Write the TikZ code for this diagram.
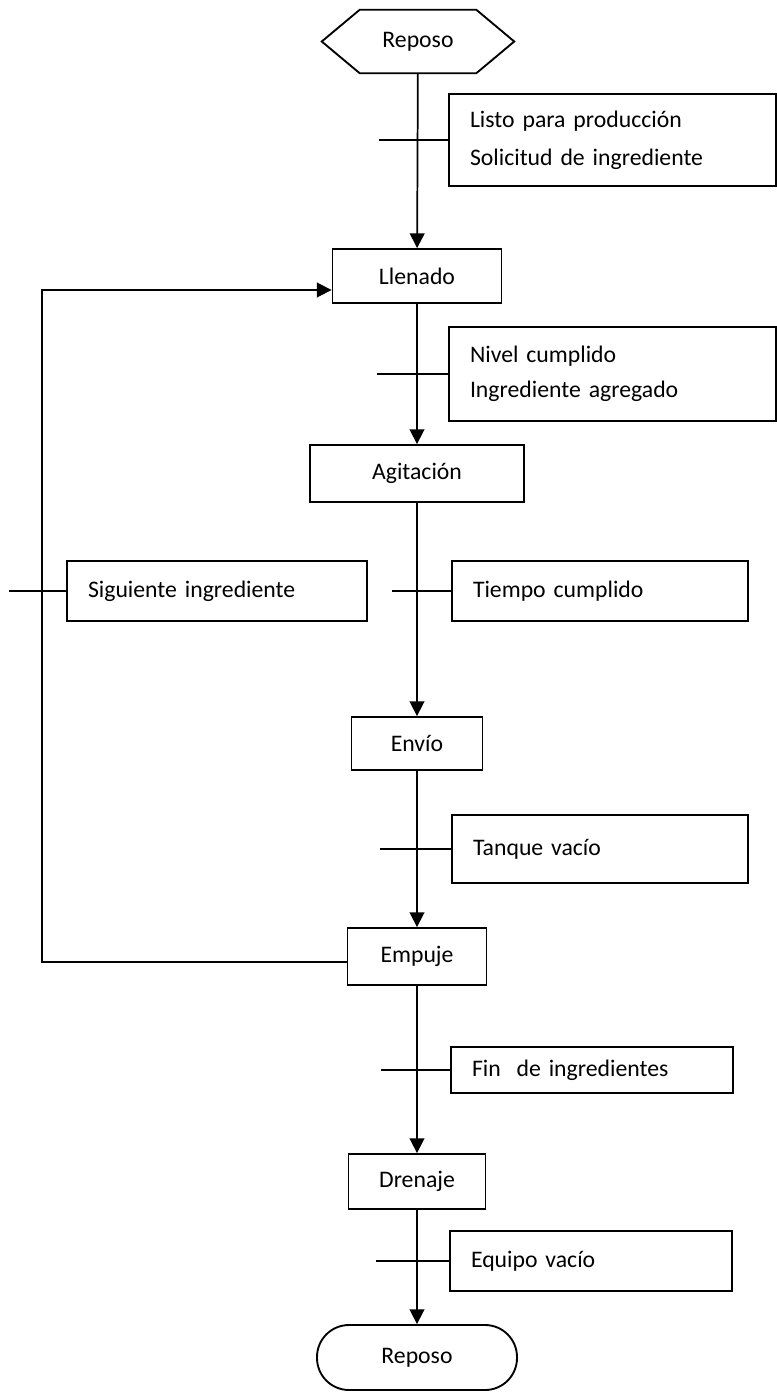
\documentclass[tikz,border=0pt]{standalone}
\usepackage{fontspec}
\setmainfont{Carlito}
\usetikzlibrary{arrows.meta,positioning}

\tikzset{
  line/.style={line width=1.3pt},
  flow/.style={line, -{Triangle[width=11pt,length=11pt]}},
  state/.style={draw, line width=1.4pt, inner sep=0pt},
  cond/.style={draw, line width=1.4pt, align=left, inner xsep=15.75pt, inner ysep=0pt},
}

\begin{document}
\begin{tikzpicture}[x=0.75pt, y=-0.75pt, font=\fontsize{17.8pt}{27pt}\selectfont]
\useasboundingbox (0,0) rectangle (777,1399);

% estados
\node[minimum width=144pt, minimum height=47.25pt, inner sep=0pt] (reposoA) at (418,41.5) {Reposo};
\draw[state] (reposoA.west) -- ([xshift=28.5pt]reposoA.north west) -- ([xshift=-28.5pt]reposoA.north east)
  -- (reposoA.east) -- ([xshift=-28.5pt]reposoA.south east) -- ([xshift=28.5pt]reposoA.south west) -- cycle;
\node[state, minimum width=126.75pt, minimum height=40.5pt] (llenado) at (417,276) {Llenado};
\node[state, minimum width=160.5pt, minimum height=42.75pt] (agitacion) at (417,473.5) {Agitación};
\node[state, minimum width=98.25pt, minimum height=39.75pt] (envio) at (417,743.5) {Envío};
\node[state, minimum width=104.25pt, minimum height=42.75pt] (empuje) at (417,956.5) {Empuje};
\node[state, minimum width=102.75pt, minimum height=41.25pt] (drenaje) at (417,1181.5) {Drenaje};
\node[state, rounded corners=24pt, minimum width=150pt, minimum height=48.75pt] (reposoB) at (417,1357.5) {Reposo};

% transiciones
\node[cond, font=\fontsize{17.8pt}{28.5pt}\selectfont, text width=213.75pt, minimum height=69pt] (c1) at (612.5,140)
  {Listo para producción\\Solicitud de ingrediente};
\node[cond, font=\fontsize{17.8pt}{26.25pt}\selectfont, text width=213.75pt, minimum height=70.5pt] (c2) at (612.5,374)
  {Nivel cumplido\\Ingrediente agregado};
\node[cond, text width=193.5pt, minimum height=45pt] (c3) at (217,591) {Siguiente ingrediente};
\node[cond, text width=190.5pt, minimum height=45pt] (c4) at (600,591) {Tiempo cumplido};
\node[cond, text width=190.5pt, minimum height=51pt] (c5) at (600,849) {Tanque vacío};
\node[cond, text width=180pt, minimum height=34.5pt] (c6) at (592,1070) {Fin\ \ de ingredientes};
\node[cond, text width=180pt, minimum height=45pt] (c7) at (591,1261) {Equipo vacío};

\coordinate (loopl) at (42,594);

% flechas
\draw[flow] (reposoA) -- (llenado);
\draw[flow] (llenado) -- (agitacion);
\draw[flow] (agitacion) -- (envio);
\draw[flow] (envio) -- (empuje);
\draw[flow] (empuje) -- (drenaje);
\draw[flow] (drenaje) -- (reposoB);
\draw[flow] ([yshift=-4pt]empuje.west) -| (loopl) |- ([yshift=-10.5pt]llenado.west);

% receptividades
\draw[line] (c1.west) -- ++(-69,0);
\draw[line] (c2.west) -- ++(-71,0);
\draw[line] (c3.west) -- ++(-57,0);
\draw[line] (c4.west) -- ++(-59,0);
\draw[line] (c5.west) -- ++(-71,0);
\draw[line] (c6.west) -- ++(-69,0);
\draw[line] (c7.west) -- ++(-73,0);
\end{tikzpicture}
\end{document}
